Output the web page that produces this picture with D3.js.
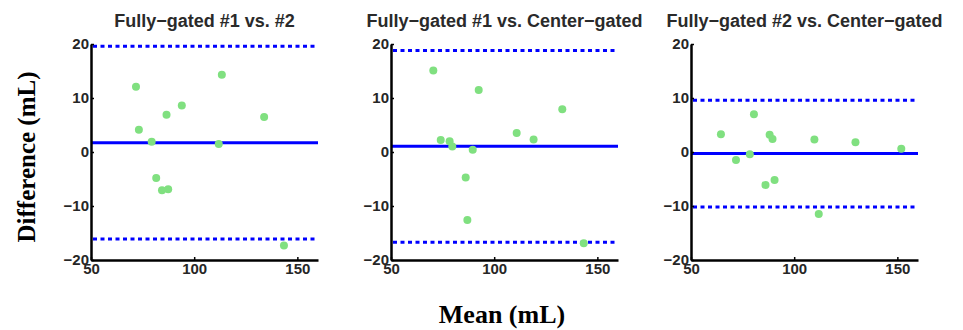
<!DOCTYPE html>
<html>
<head>
<meta charset="utf-8">
<script src="https://cdn.jsdelivr.net/npm/d3@7"></script>
<style>
  body { margin: 0; background: #fff; }
  svg text { font-family: "Liberation Sans", Arial, sans-serif; }
</style>
</head>
<body>
<div id="chart"></div>
<script>
const width = 963, height = 330;

// panel titles
const titles = ["Fully\u2212gated #1 vs. #2", "Fully\u2212gated #1 vs. Center\u2212gated", "Fully\u2212gated #2 vs. Center\u2212gated"];

// mean of the two measurements (x) per panel
const meanX = [
  [71.8, 73.2, 79.4, 81.6, 84.4, 87.4, 86.6, 94.0, 111.9, 113.4, 133.9, 143.5],
  [70.5, 74.1, 78.4, 79.7, 89.6, 86.2, 87.0, 92.5, 110.9, 119.1, 133.0, 143.4],
  [64.5, 71.8, 78.5, 80.5, 88.1, 89.5, 86.1, 90.5, 109.8, 111.9, 129.7, 151.9]
];
// difference (y) per panel
const diffY = [
  [12.1, 4.1, 1.9, -4.8, -7.1, -6.9, 6.9, 8.6, 1.5, 14.3, 6.5, -17.3],
  [15.1, 2.2, 2.0, 1.0, 0.4, -4.7, -12.6, 11.5, 3.5, 2.3, 7.9, -16.9],
  [3.3, -1.5, -0.4, 7.0, 3.2, 2.4, -6.1, -5.2, 2.3, -11.5, 1.8, 0.6]
];
// bias and limits of agreement
const bias = [1.7, 1.05, -0.3];
const upperLoA = [19.6, 18.8, 9.6];
const lowerLoA = [-16.1, -16.7, -10.2];

const xTicks = [50, 100, 150];
const yTicks = [-20, -10, 0, 10, 20];

const svg = d3.select("#chart").append("svg")
  .attr("width", width).attr("height", height);

const panelW = 227, panelH = 216, panelTop = 44;
const lefts = [91, 391, 691];

titles.forEach((t, i) => {
  const g = svg.append("g").attr("transform", `translate(${lefts[i]},${panelTop})`);
  const x = d3.scaleLinear().domain([50, 160]).range([0, panelW]);
  const y = d3.scaleLinear().domain([-20, 20]).range([panelH, 0]);

  // reference lines
  g.append("line")
    .attr("x1", 0).attr("x2", panelW)
    .attr("y1", y(bias[i])).attr("y2", y(bias[i]))
    .attr("stroke", "#0000ff").attr("stroke-width", 3);
  [upperLoA[i], lowerLoA[i]].forEach(v => {
    g.append("line")
      .attr("x1", 2).attr("x2", panelW)
      .attr("y1", y(v)).attr("y2", y(v))
      .attr("stroke", "#0000ff").attr("stroke-width", 3)
      .attr("stroke-dasharray", "4,3.5");
  });

  // points
  g.selectAll("circle")
    .data(meanX[i].map((m, k) => [m, diffY[i][k]]))
    .join("circle")
    .attr("cx", d => x(d[0]))
    .attr("cy", d => y(d[1]))
    .attr("r", 4)
    .attr("fill", "#80e080");

  // axes
  const xAxis = g.append("g").attr("transform", `translate(0,${panelH})`)
    .call(d3.axisBottom(x).tickValues(xTicks).tickSizeInner(-3).tickSizeOuter(0).tickPadding(3));
  const yAxis = g.append("g")
    .call(d3.axisLeft(y).tickValues(yTicks).tickSizeInner(-3).tickSizeOuter(0).tickPadding(2)
      .tickFormat(d => d < 0 ? "\u2212" + Math.abs(d) : d));
  [xAxis, yAxis].forEach(a => {
    a.select(".domain").attr("stroke", "#000").attr("stroke-width", 2.5);
    a.selectAll(".tick line").attr("stroke", "#000").attr("stroke-width", 1.5);
    a.selectAll(".tick text")
      .attr("fill", "#262626")
      .style("font-size", "15px")
      .style("font-weight", "bold");
  });

  g.append("text")
    .attr("x", panelW / 2).attr("y", -17)
    .attr("text-anchor", "middle")
    .attr("fill", "#2a2a2a")
    .style("font-size", "18px")
    .style("font-weight", "bold")
    .text(t);
});

svg.append("text")
  .attr("transform", "translate(35,157) rotate(-90)")
  .attr("text-anchor", "middle")
  .style("font-family", "'Liberation Serif', 'Times New Roman', serif")
  .style("font-size", "25px")
  .style("font-weight", "bold")
  .text("Difference (mL)");

svg.append("text")
  .attr("x", 502).attr("y", 323)
  .attr("text-anchor", "middle")
  .style("font-family", "'Liberation Serif', 'Times New Roman', serif")
  .style("font-size", "26px")
  .style("font-weight", "bold")
  .text("Mean (mL)");
</script>
</body>
</html>
